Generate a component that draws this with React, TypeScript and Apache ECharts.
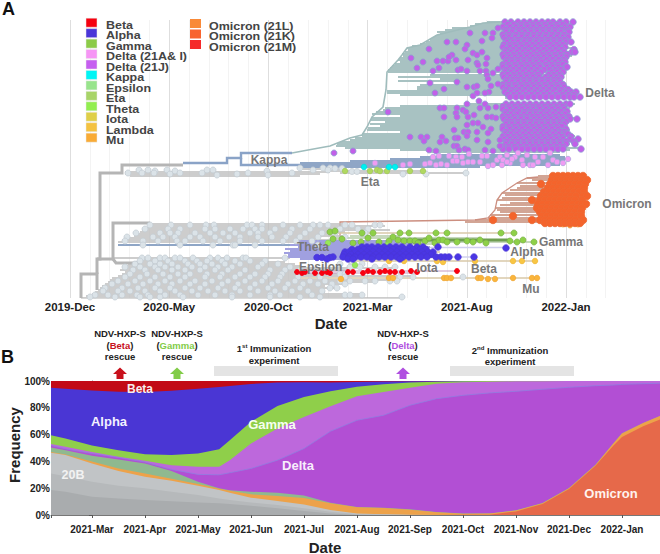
import React, { useEffect, useRef } from "react";
import * as echarts from "echarts";

const FONT = "'Liberation Sans', Arial, sans-serif";

// ---------- Panel A: tree. Horizontal scale: tree position, vertical scale: tip rank ----------
const treeMonthLabels: Record<number, string> = { 0: "2019-Dec", 5: "2020-May", 10: "2020-Oct", 15: "2021-Mar", 20: "2021-Aug", 25: "2022-Jan" };

const rootBranches = [
  [[81, 298], [81, 274], [97, 274], [97, 290]],
  [[97, 274], [97, 259], [100, 259], [100, 173], [122, 173], [122, 165], [183, 165]],
  [[97, 259], [113, 259], [113, 223], [150, 223]],
  [[113, 259], [116, 263], [140, 263]],
];
const grayThin = [
  [172, 125, 330], [174, 125, 320], [176, 130, 300], [169, 300, 340],
  [224, 150, 345], [226, 148, 385], [228, 146, 370], [230, 142, 390], [232, 140, 345], [234, 136, 330], [236, 134, 345], [238, 128, 320], [240, 122, 340], [242, 118, 315],
  [258, 114, 290], [260, 140, 265], [262, 135, 285], [264, 128, 295], [266, 125, 300], [268, 124, 395], [270, 120, 350], [272, 125, 300], [274, 122, 345], [276, 118, 413], [278, 112, 300],
  [280, 110, 397], [282, 108, 375], [284, 105, 345], [286, 102, 325], [288, 100, 337], [290, 98, 322], [292, 95, 325], [294, 92, 362], [296, 86, 362], [298, 81, 402],
  [173, 340, 466], [171, 330, 426],
];
const tanLines = [[261, 350, 535], [278, 300, 537], [233, 330, 514], [252, 380, 440]];
const blueBranches = [
  [[183, 163], [227, 163], [227, 158], [241, 158], [241, 153], [292, 153]],
  [[241, 158], [241, 165], [300, 165]],
];
const blueTips = [[155, 440, 560], [157, 420, 565], [159, 390, 568], [161, 350, 565], [163, 300, 560], [165, 241, 560], [167, 300, 480], [245, 118, 300]];
const deltaTrunk = [[[292, 153], [308, 150], [330, 146], [350, 138], [362, 135], [367, 127], [372, 117], [383, 107], [386, 90], [387, 72], [398, 60], [402, 55], [407, 48], [420, 45], [437, 35], [470, 27], [483, 23], [500, 22]]];
const deltaTips = [
  [22, 487, 560], [24, 475, 572], [26, 470, 565], [28, 452, 570], [30, 445, 560], [32, 437, 568], [34, 440, 558], [36, 435, 566], [38, 432, 562], [40, 430, 570], [42, 426, 560], [44, 420, 568], [46, 412, 562], [48, 407, 572], [50, 408, 560], [52, 405, 570], [54, 402, 565], [56, 403, 572], [58, 400, 560], [60, 398, 568], [62, 400, 562], [64, 395, 566], [66, 392, 558], [68, 390, 566], [70, 388, 562],
  [72, 388, 556], [75, 430, 558], [77, 398, 560], [79, 440, 556], [81, 398, 560], [83, 460, 558], [85, 420, 560], [87, 417, 556], [89, 417, 560], [91, 387, 560], [93, 387, 575], [95, 400, 570], [98, 505, 582],
  [104, 470, 575], [106, 400, 560], [108, 385, 570], [110, 383, 562], [112, 376, 566], [114, 372, 560], [116, 400, 570], [118, 372, 578], [120, 370, 560], [122, 385, 566], [124, 370, 560], [126, 380, 568], [128, 368, 565], [130, 367, 570], [132, 400, 562], [134, 362, 568], [136, 362, 575], [138, 355, 565], [140, 350, 578], [142, 340, 568], [144, 337, 570], [146, 336, 562], [148, 345, 580], [150, 400, 570], [152, 430, 560],
];
const omicronTrunk = [[[340, 240], [340, 222], [475, 220], [488, 218], [495, 210], [497, 200], [502, 193], [517, 183], [527, 178], [538, 177]]];
const omicronTips = [
  [176, 538, 585], [178, 527, 585], [180, 532, 585], [183, 517, 584], [186, 520, 585], [188, 517, 584], [190, 510, 585], [193, 502, 585], [195, 505, 584], [198, 502, 585], [200, 497, 584], [203, 510, 585], [205, 500, 584], [208, 495, 582], [210, 497, 584], [212, 500, 582], [215, 490, 582], [218, 488, 580], [220, 475, 582], [222, 465, 580],
];
const gammaThick = [[240, 400, 510]];
const gammaTips = [[238, 330, 480], [242, 333, 534], [244, 370, 440], [236, 350, 400]];
const alphaTips = [
  [241, 295, 400], [243, 300, 420], [245, 290, 410], [247, 298, 430], [249, 285, 425], [251, 290, 430], [253, 284, 425], [255, 288, 440], [257, 285, 440], [259, 300, 400],
];
const alphaTails = [[247.5, 430, 506], [257, 440, 473]];
const betaTips = [[271, 296, 457], [273, 300, 420]];

const grayDotRows = [
  [168, 300, 323, 330], [170, 139, 148, 167, 207, 213, 313, 328], [171, 155, 175, 267], [173, 128, 142, 154, 180, 202, 248, 292, 466], [174, 170, 237, 403, 426], [175, 217, 268], [168.5, 335, 342],
  [171.5, 352, 357],
  [225, 150, 171, 190, 206, 214, 247, 252, 262, 283, 300, 313, 320, 328, 345, 352, 375, 380],
  [229, 145, 168, 180, 205, 215, 230, 243, 255, 262, 275, 292, 310, 340, 358, 368],
  [233, 136, 160, 170, 178, 195, 210, 223, 235, 250, 258, 270, 290, 305, 322, 335, 365],
  [237, 127, 153, 163, 175, 190, 200, 215, 229, 240, 258, 272, 286, 300, 318, 345],
  [241, 125, 143, 158, 177, 185, 203, 220, 240, 262, 283, 296, 312],
  [245, 143, 180, 213, 233, 235, 255, 318],
  [258, 142, 148, 160, 165, 175, 180, 193, 210, 218, 227, 243, 246, 285],
  [261, 140, 155, 168, 185, 197, 207, 222, 235, 250, 265],
  [264, 135, 150, 160, 172, 188, 200, 212, 225, 240, 262, 278, 340, 352, 362],
  [267, 125, 140, 155, 165, 178, 192, 205, 218, 232, 258, 290, 350, 360, 375, 385, 395],
  [270, 133, 145, 158, 172, 185, 200, 215, 228, 245, 270, 285, 300],
  [274, 130, 147, 163, 178, 190, 207, 222, 240, 255, 268, 282, 330, 340, 345],
  [277, 125, 140, 155, 170, 185, 205, 220, 235, 250, 265, 280, 298, 320, 345, 400, 413, 463],
  [281, 118, 135, 150, 165, 180, 195, 212, 228, 245, 262, 278, 295, 310, 325, 340, 350, 365, 375, 390, 397],
  [284, 112, 128, 143, 158, 172, 190, 205, 222, 238, 255, 272, 288, 303, 318, 332, 345],
  [288, 105, 122, 138, 155, 170, 185, 200, 218, 235, 250, 268, 285, 300, 330, 337],
  [291, 103, 118, 130, 145, 160, 175, 192, 208, 225, 240, 258, 275, 292, 308, 322],
  [295, 95, 108, 122, 137, 148, 165, 180, 198, 215, 232, 250, 270, 280, 312, 345, 350, 362],
  [297, 90, 115, 140, 150, 160, 183, 232, 270, 300, 320, 402],
];
const deltaDotRows = [
  [22, 505, 511, 518, 524, 530, 536, 542, 548, 553, 560, 566, 573],
  [24.5, 508, 514, 521, 527, 533, 539, 545, 551, 557, 563],
  [27, 503, 510, 516, 521, 528, 533, 540, 546, 552, 558, 565, 570],
  [29.5, 506, 513, 519, 524, 531, 537, 543, 549, 555, 562, 567],
  [32, 506, 512, 519, 525, 531, 537, 543, 549, 555, 561, 567, 569],
  [34.5, 503, 509, 516, 522, 528, 534, 540, 546, 552, 558, 564],
  [37, 504, 509, 515, 522, 527, 534, 539, 545, 551, 557, 563, 568],
  [39.5, 506, 512, 518, 525, 530, 537, 542, 548, 554, 560, 565],
  [42, 507, 513, 518, 524, 530, 536, 542, 548, 554, 560, 566, 571],
  [44.5, 504, 510, 515, 521, 527, 533, 539, 545, 551, 557, 563],
  [47, 503, 510, 516, 522, 529, 535, 541, 546, 553, 559, 565],
  [49.5, 506, 513, 519, 525, 532, 538, 544, 550, 556, 562, 574],
  [52, 505, 511, 517, 523, 528, 534, 540, 547, 552, 558, 564, 572, 575],
  [54.5, 503, 508, 514, 520, 526, 531, 537, 543, 549, 555, 561, 567],
  [57, 504, 509, 515, 521, 527, 533, 538, 544, 550, 556, 562, 566],
  [59.5, 507, 512, 518, 524, 530, 536, 541, 547, 553, 559, 564],
  [62, 506, 512, 518, 524, 530, 536, 542, 549, 555, 561, 565],
  [64.5, 503, 509, 515, 521, 527, 533, 539, 546, 552, 558, 563],
  [67, 503, 510, 516, 522, 528, 534, 540, 547, 553, 558, 566, 567],
  [69.5, 506, 513, 519, 525, 531, 537, 544, 550, 556, 561],
  [72, 505, 511, 517, 523, 529, 535, 541, 552, 557, 563],
  [74.5, 503, 508, 514, 520, 526, 532, 538, 549, 554, 560],
  [77, 504, 510, 515, 521, 527, 533, 539, 546, 551, 556, 561],
  [79.5, 507, 513, 518, 524, 530, 536, 542, 548, 554, 559],
  [82, 506, 512, 518, 524, 530, 536, 542, 548, 554, 560],
  [84.5, 503, 509, 515, 521, 527, 533, 539, 545, 551, 557, 563],
  [87, 503, 509, 516, 522, 528, 534, 540, 546, 552, 558, 564],
  [89.5, 506, 512, 519, 525, 531, 537, 543, 549, 555, 561, 568],
  [92, 505, 511, 517, 523, 529, 535, 541, 547, 553, 560, 566, 571, 576],
  [94.5, 508, 514, 520, 526, 532, 538, 544, 550, 556, 563, 569, 574],
  [97, 510, 516, 522, 528, 534, 540, 546, 552, 558, 564, 570, 574, 580],
  [104, 506, 512, 518, 524, 530, 536, 542, 548, 554, 560, 566, 570],
  [106.5, 503, 509, 515, 521, 527, 533, 539, 545, 551, 557, 563],
  [109, 503, 510, 516, 522, 528, 533, 540, 546, 552, 558, 564],
  [111.5, 506, 513, 519, 525, 531, 536, 543, 549, 555, 561, 567],
  [114, 505, 511, 517, 524, 530, 536, 541, 547, 553, 559, 565],
  [116.5, 503, 508, 514, 521, 527, 533, 538, 544, 550, 556, 562, 569],
  [119, 504, 509, 515, 521, 527, 534, 539, 545, 551, 557, 563, 570, 577],
  [121.5, 507, 512, 518, 524, 531, 537, 542, 548, 554, 560, 566],
  [124, 506, 512, 518, 524, 530, 536, 542, 548, 554, 560, 564],
  [126.5, 503, 509, 515, 521, 527, 533, 539, 545, 551, 557, 562],
  [129, 503, 510, 516, 522, 528, 534, 540, 546, 552, 558, 566],
  [131.5, 506, 513, 519, 525, 531, 537, 543, 549, 555, 561, 565],
  [134, 505, 511, 517, 523, 529, 535, 541, 547, 553, 559, 565, 568],
  [136.5, 503, 508, 514, 520, 526, 532, 538, 544, 550, 556, 562, 571],
  [139, 504, 510, 515, 521, 527, 533, 539, 545, 551, 557, 563, 570, 578],
  [141.5, 507, 513, 518, 524, 530, 536, 542, 548, 554, 560, 566, 574],
  [144, 506, 512, 518, 524, 530, 536, 542, 548, 554, 560, 566, 575],
  [146.5, 503, 509, 515, 521, 527, 533, 539, 545, 551, 557, 563],
  [149, 503, 509, 516, 522, 528, 534, 540, 546, 552, 558, 563, 581],
];
const deltaSparseDots = [
  [498, 28], [470, 33], [485, 33], [493, 33], [492, 38], [482, 41], [447, 42], [456, 42], [467, 45], [429, 49], [465, 49], [473, 53], [482, 52], [452, 55], [477, 55], [411, 58], [487, 58], [423, 62], [437, 61], [443, 61], [448, 61], [456, 60], [468, 60], [477, 63], [486, 64], [449, 57], [417, 68], [433, 71], [439, 68], [458, 70], [461, 69], [467, 71], [480, 71], [486, 71], [493, 73], [498, 69], [478, 65], [487, 75], [488, 79], [430, 83], [457, 82], [498, 84], [491, 86], [467, 87], [474, 87], [477, 86], [444, 89], [435, 93], [489, 92], [485, 93], [477, 93], [473, 96], [479, 101], [467, 104], [485, 104], [480, 108], [496, 107], [440, 108], [444, 108], [457, 108], [463, 110], [466, 112], [488, 108], [388, 112], [456, 113], [474, 115], [468, 117], [444, 117], [457, 117], [487, 117], [492, 117], [496, 118], [473, 123], [478, 123], [467, 125], [483, 127], [491, 129], [454, 130], [464, 132], [468, 132], [477, 132], [488, 133], [467, 136], [410, 137], [421, 137], [427, 137], [442, 137], [455, 138], [458, 138], [424, 141], [440, 142], [446, 141], [477, 140], [488, 142], [500, 140], [454, 146], [457, 146], [500, 146], [429, 150], [436, 151], [459, 150], [465, 149], [468, 150], [485, 150], [493, 151], [334, 153], [353, 151],
];
const delta21ADots = [
  [375, 163], [403, 165], [410, 164], [425, 164], [430, 163], [436, 165], [441, 164], [447, 165], [433, 157], [439, 156], [449, 156], [456, 157], [462, 157], [469, 154], [482, 156], [487, 156], [453, 161], [457, 161], [463, 163], [468, 162], [473, 162], [480, 162], [488, 166], [493, 165], [497, 160], [500, 157], [503, 160], [507, 155], [510, 163], [515, 157], [518, 153], [522, 160], [527, 155], [530, 165], [535, 157], [538, 162], [543, 157], [548, 165], [553, 160], [557, 162], [563, 163], [568, 159], [502, 165], [507, 162], [512, 159], [523, 165], [533, 165], [550, 153],
];
const kappaDots = [[364, 167], [389, 167], [395, 167]];
const etaDots = [[345, 171], [370, 171], [377, 170], [380, 171], [387, 171], [410, 171], [423, 171]];
const omicronDotRows = [
  [176, 553, 558, 563, 568, 573, 578, 583],
  [180, 552, 557, 562, 567, 572, 577, 582, 587],
  [184, 541, 550, 555, 560, 565, 570, 575, 580, 585],
  [188, 548, 553, 558, 563, 568, 573, 578, 584],
  [192, 544, 549, 554, 559, 564, 569, 574, 579, 584],
  [196, 541, 546, 551, 556, 561, 566, 571, 576, 583, 587],
  [200, 532, 540, 545, 550, 555, 560, 565, 570, 575, 582],
  [204, 538, 543, 548, 553, 558, 563, 568, 573, 578, 582, 586],
  [208, 537, 542, 547, 552, 557, 562, 567, 572, 577, 582],
  [212, 540, 545, 550, 555, 560, 565, 570, 575, 581],
  [216, 513, 542, 547, 552, 557, 562, 567, 572, 577, 581],
  [220, 493, 532, 540, 545, 550, 555, 560, 565, 570, 575, 583],
  [223, 545, 550, 555, 560, 565, 570, 575, 580],
];
const omicron21LDots = [[563, 224], [570, 225], [578, 224]];
const gammaDots = [
  [330, 232], [335, 231], [362, 233], [373, 233], [400, 233], [409, 233], [436, 233], [447, 233], [501, 233], [514, 233],
  [333, 239], [342, 239], [353, 243], [361, 242], [368, 238], [379, 242], [393, 237], [389, 241], [398, 240], [404, 241], [410, 241], [415, 241], [418, 243], [425, 241], [429, 238], [435, 243], [439, 240], [443, 240], [447, 242], [457, 242], [467, 241], [473, 242], [480, 240], [486, 243], [510, 241], [517, 242], [523, 240], [534, 242],
];
const thetaDots = [[387, 245], [355, 265], [328, 243]];
const alphaDotRows = [
  [247, 362, 367, 372, 378, 384, 390, 396, 402, 410, 417, 423, 438],
  [249.5, 352, 358, 364, 369, 375, 381, 387, 393, 399, 405, 413, 420, 426],
  [252, 345, 349, 355, 361, 367, 373, 379, 385, 391, 397, 403, 409, 416, 422, 428, 433],
  [254.5, 344, 351, 358, 364, 370, 376, 382, 388, 394, 400, 406, 412, 418, 424, 431],
  [257, 333, 343, 349, 355, 361, 367, 373, 379, 385, 391, 397, 403, 409, 415, 421, 427, 436, 441, 445, 449, 458, 474],
  [257.5, 317, 322, 330],
  [259, 327, 348, 353, 372, 400],
  [248, 506],
];
const betaDots = [[297, 272], [302, 273], [305, 272], [315, 273], [322, 273], [327, 272], [330, 273], [348, 272], [353, 272], [363, 273], [368, 271], [373, 272], [380, 272], [385, 271], [390, 272], [395, 272], [402, 272], [411, 271], [417, 272], [457, 271]];
const lambdaDots = [[389, 261], [404, 261], [437, 261], [443, 262], [475, 261], [513, 261], [522, 261], [535, 261]];
const muDots = [[341, 279], [389, 278], [393, 278], [444, 278], [447, 278], [451, 278], [478, 278], [481, 278], [488, 279], [495, 279], [513, 278], [532, 278], [537, 278]];

// ---------- Panel B: upper edge of each band (%) at month offsets from 2021-Mar ----------
const freqMonthLabels = ["2021-Mar", "2021-Apr", "2021-May", "2021-Jun", "2021-Jul", "2021-Aug", "2021-Sep", "2021-Oct", "2021-Nov", "2021-Dec", "2022-Jan"];
const freqTicks = [0, 1, 2, 3, 4, 5, 6, 7, 8, 9, 10];
const freqX = [-0.773, -0.5, 0, 0.5, 1, 1.5, 2, 2.4, 2.6, 3, 3.5, 4, 4.5, 5, 5.5, 6, 6.5, 7, 7.5, 8, 8.5, 9, 9.5, 9.84, 10, 10.4, 10.717];
const betaTop = [100, 100, 100, 100, 100, 100, 100, 100, 100, 100, 100, 100, 100, 100, 100, 100, 100, 100, 100, 100, 100, 100, 100, 100, 100, 100, 100];
const alphaTop = [95, 94.3, 93, 92, 91.8, 92.8, 94.3, 95.5, 96.3, 97.8, 98.8, 99, 98.8, 99.2, 99.6, 99.8, 99.9, 100, 100, 100, 100, 100, 100, 100, 100, 100, 100];
const gammaTop = [59.6, 57, 51.9, 48.4, 45.4, 44.7, 45.9, 49, 55.8, 69.5, 81.4, 88, 92.3, 95.8, 97.5, 98.8, 99.5, 99.8, 100, 100, 100, 100, 100, 100, 100, 100, 100];
const delta21ATop = [52.9, 50.9, 47.1, 43.4, 40.4, 37.2, 36, 36, 40.9, 53.3, 64.5, 73.2, 81.1, 88.6, 91.8, 95, 98, 99, 99.5, 99.8, 99.9, 100, 100, 100, 100, 100, 100];
const delta21JTop = [51.9, 49.4, 45.9, 42.9, 39.5, 34, 30.3, 30, 31.5, 34.7, 40.9, 49.6, 62.5, 70.7, 74.4, 81.9, 86.8, 89.3, 91.1, 92.3, 93.8, 95.3, 96.5, 97, 97.5, 98, 98.3];
const otherTop = [50.4, 48.4, 44.2, 41.4, 38.5, 32.8, 24.8, 19.9, 18.4, 17.4, 16.6, 14.6, 9.2, 6, 5.5, 4.2, 2.2, 1.2, 1.2, 3.5, 8.9, 20.1, 37.5, 53.6, 61, 68.7, 73.9];
const lambdaMuTop = [47.1, 45.2, 40, 34.7, 31, 27, 23.1, 19.6, 18.1, 15.4, 14.1, 12.7, 8.7, 5.7, 5.2, 4, 2, 1, 1.1, 3.35, 8.8, 20, 37.4, 53.5, 60.9, 68.6, 73.8];
const omicronTop = [0, 0, 0, 0, 0, 0, 0, 0, 0, 0, 0, 0, 0, 0, 0, 0, 0, 0.2, 0.25, 2.7, 8.2, 19.4, 36.7, 51.9, 58.3, 66.3, 71.2];
const gray20BTop = [46.4, 44.7, 38.5, 32.8, 28.5, 25.6, 21.8, 18.6, 16.6, 12.9, 10.4, 7.9, 3.7, 1.2, 0.5, 0.2, 0, 0, 0, 0, 0, 0, 0, 0, 0, 0, 0];
const gray2Top = [31, 29, 24.8, 21.8, 19.9, 17.4, 14.9, 12.4, 11.2, 9.4, 7.4, 5, 2.5, 0.7, 0.3, 0, 0, 0, 0, 0, 0, 0, 0, 0, 0, 0, 0];
const gray3Top = [18.6, 17.4, 13.6, 12.4, 11.2, 10.2, 9.4, 8.7, 8.2, 6.9, 5, 3, 1.2, 0, 0, 0, 0, 0, 0, 0, 0, 0, 0, 0, 0, 0, 0];

const legendCol1 = [
  ["Beta", "#f5000f"], ["Alpha", "#4a36d8"], ["Gamma", "#8ccb48"], ["Delta (21A& I)", "#f695f5"], ["Delta (21J)", "#c65ef0"], ["Kappa", "#00f5f5"],
  ["Epsilon", "#98e48c"], ["Eta", "#a8d468"], ["Theta", "#92ee50"], ["Iota", "#dfcf48"], ["Lambda", "#f4c240"], ["Mu", "#f9ab35"],
];
const legendCol2 = [["Omicron (21L)", "#f98a38"], ["Omicron (21K)", "#f8642e"], ["Omicron (21M)", "#f52a2a"]];

const rows = (t: number[][]) => t.flatMap(([y, ...xs]) => xs.map((x) => [x, y]));
const tips = (t: number[][]) => t.map(([y, a, b]) => ({ coords: [[a, y], [b, y]] }));
const polys = (t: number[][][]) => t.map((coords) => ({ coords }));

const linesSeries = (data: any[], color: string, width: number) => ({
  type: "lines", coordinateSystem: "cartesian2d", xAxisIndex: 1, yAxisIndex: 0, polyline: true, silent: true, progressive: 0, z: 2,
  lineStyle: { color, width, opacity: 1, curveness: 0 }, data,
});
const dots = (data: number[][], color: string, border: string, size = 7, z = 3) => ({
  type: "scatter", xAxisIndex: 1, yAxisIndex: 0, symbolSize: size, silent: true, progressive: 0, z,
  itemStyle: { color, borderColor: border, borderWidth: 0.8, opacity: 1 }, data,
});
const band = (name: string, data: number[], color: string, lineColor?: string) => ({
  name, type: "line", xAxisIndex: 2, yAxisIndex: 1, symbol: "none", silent: true, z: 2,
  areaStyle: { color, opacity: 1, origin: "start" },
  lineStyle: { color: lineColor || color, width: lineColor ? 0.8 : 0 },
  data: data.map((v, i) => [freqX[i], v]),
});

const txt = (x: number, y: number, text: string, fontSize: number, fill: string, align = "center", extra: any = {}) => ({
  type: "text", z: 100, silent: true, ...extra,
  x, y,
  style: { text, fill, font: `bold ${fontSize}px ${FONT}`, textAlign: align, textVerticalAlign: "middle", ...(extra.style || {}) },
});
const arrow = (cx: number, fill: string) => ({
  type: "polygon", z: 100, silent: true,
  shape: { points: [[cx, 367.5], [cx + 7, 374], [cx + 3.5, 374], [cx + 3.5, 379], [cx - 3.5, 379], [cx - 3.5, 374], [cx - 7, 374]] },
  style: { fill },
});
const rescue = (cx: number, word: string, color: string) => [
  txt(cx, 333, "NDV-HXP-S", 9.5, "#222"),
  {
    type: "text", z: 100, silent: true, x: cx, y: 345,
    style: {
      text: `{a|(}{c|${word}}{a|)}`, textAlign: "center", textVerticalAlign: "middle",
      rich: { a: { font: `bold 9.5px ${FONT}`, fill: "#222" }, c: { font: `bold 9.5px ${FONT}`, fill: color } },
    },
  },
  txt(cx, 356, "rescue", 9.5, "#222"),
  arrow(cx, color),
];
const immunization = (cx: number, y: number, n: string, sup: string) => ({
  type: "text", z: 100, silent: true, x: cx, y,
  style: {
    text: `{a|${n}}{s|${sup}}{a| Immunization}`, textAlign: "center", textVerticalAlign: "middle",
    rich: { a: { font: `bold 9.5px ${FONT}`, fill: "#222" }, s: { font: `bold 6px ${FONT}`, fill: "#222", verticalAlign: "top" } },
  },
});

export default function App() {
  const ref = useRef<HTMLDivElement>(null);
  useEffect(() => {
    document.body.style.margin = "0";
    const chart = echarts.init(ref.current!, null, { renderer: "svg" });
    const legendItems = [
      ...legendCol1.flatMap(([name, color], i) => [
        { type: "rect", z: 100, silent: true, shape: { x: 86, y: 18.2 + i * 10.45, width: 11, height: 9 }, style: { fill: color, stroke: "#e8e8e8", lineWidth: 0.5 } },
        txt(106, 25 + i * 10.5, name, 10.4, "#444", "left", { scaleX: 1.2 }),
      ]),
      ...legendCol2.flatMap(([name, color], i) => [
        { type: "rect", z: 100, silent: true, shape: { x: 190, y: 19 + i * 10.5, width: 11, height: 9 }, style: { fill: color } },
        txt(209, 26 + i * 10.5, name, 10.4, "#444", "left", { scaleX: 1.2 }),
      ]),
    ];
    chart.setOption({
      animation: false,
      textStyle: { fontFamily: FONT },
      grid: [
        { left: 70, top: 20, width: 535.68, height: 278 },
        { left: 51, top: 381, width: 609, height: 134 },
      ],
      xAxis: [
        {
          type: "value", gridIndex: 0, min: 0, max: 27, interval: 1,
          axisLine: { show: false }, axisTick: { show: false },
          axisLabel: { margin: 3, color: "#222", fontWeight: "bold", fontSize: 11.5, formatter: (v: number) => treeMonthLabels[v] || "" },
          splitLine: { show: true, lineStyle: { width: 1, color: ["#dedede", "#f3f3f3", "#f3f3f3", "#f3f3f3", "#f3f3f3"] } },
        },
        { type: "value", gridIndex: 0, min: 70, max: 605.68, show: false },
        {
          type: "value", gridIndex: 1, min: -0.773, max: 10.717,
          axisLine: { show: true, onZero: false, lineStyle: { color: "#777" } },
          axisTick: { show: true, length: 3, lineStyle: { color: "#555" }, customValues: [-0.773, ...freqTicks, 10.717] },
          axisLabel: { margin: 9, color: "#222", fontWeight: "bold", fontSize: 10, customValues: freqTicks, formatter: (v: number) => freqMonthLabels[v] || "" },
          splitLine: { show: false },
        },
      ],
      yAxis: [
        { type: "value", gridIndex: 0, min: 20, max: 298, inverse: true, show: false },
        {
          type: "value", gridIndex: 1, min: 0, max: 100, interval: 20,
          axisLine: { show: true, lineStyle: { color: "#777" } },
          axisTick: { show: true, length: 3, lineStyle: { color: "#555" } },
          axisLabel: { margin: 1, color: "#222", fontWeight: "bold", fontSize: 10, formatter: "{value}%" },
          splitLine: { show: false },
        },
      ],
      series: [
        linesSeries(tips(deltaTips), "#a8c2c2", 1.9),
        linesSeries(polys(deltaTrunk), "#9fbcbc", 1.6),
        linesSeries(tips(omicronTips), "#d2a595", 1.8),
        linesSeries(polys(omicronTrunk), "#cc8f80", 1.3),
        linesSeries(tips(grayThin), "#bcbcbc", 1.5),
        linesSeries(tips(tanLines), "#d8c8a8", 1.5),
        linesSeries(polys(rootBranches), "#b5b5b5", 3),
        linesSeries(tips(blueTips), "#8fa6c6", 1.9),
        linesSeries(polys(blueBranches), "#8aa3c7", 2.4),
        linesSeries(tips(gammaTips), "#b5cba8", 1.4),
        linesSeries(tips(gammaThick), "#6f9d52", 3),
        linesSeries(tips(alphaTips), "#a0a0e0", 1.9),
        linesSeries(tips(alphaTails), "#d0d0ee", 1.4),
        linesSeries(tips(betaTips), "#c59ac0", 1.2),

        dots(rows(grayDotRows), "#dbe3e8", "#c3ccd3", 6, 3),
        dots(rows(deltaDotRows), "#c25fe8", "#8a9bd0", 6.5, 4),
        dots(deltaSparseDots, "#c25fe8", "#8a9bd0", 6, 4),
        dots(delta21ADots, "#f09cf2", "#b0a6e0", 5.5, 5),
        dots(kappaDots, "#00f0f0", "#00e0e0", 5.5, 5),
        dots(etaDots, "#b0d860", "#9fc85a", 5.5, 4),
        dots(rows(omicronDotRows), "#f4642c", "#ee6a34", 7.5, 4),
        dots(omicron21LDots, "#f5a040", "#f09838", 6, 3),
        dots(gammaDots, "#8ed048", "#78b244", 6, 4),
        dots(thetaDots, "#98e858", "#88d850", 5.5, 4),
        dots(rows(alphaDotRows), "#4a36e4", "#4a36d8", 6.5, 5),
        dots(betaDots, "#fa0010", "#f00010", 5, 5),
        dots(lambdaDots, "#f8c644", "#f0b838", 5.5, 4),
        dots(muDots, "#fab53c", "#f0a838", 5.5, 4),

        band("Beta", betaTop, "#c20a16"),
        band("Alpha", alphaTop, "#4a36d4"),
        band("Gamma", gammaTop, "#8fcf4a"),
        band("Delta 21A", delta21ATop, "#bd68dc"),
        band("Delta 21J", delta21JTop, "#b24fd4", "#8f7fe0"),
        band("Other", otherTop, "#8fb98f"),
        band("Lambda/Mu", lambdaMuTop, "#eda24a"),
        band("Omicron", omicronTop, "#e6694a"),
        band("20B", gray20BTop, "#c1c4c6"),
        band("20B-2", gray2Top, "#b6b9bb"),
        band("20B-3", gray3Top, "#a9acae"),
      ],
      graphic: [
        txt(2, 9, "A", 18, "#111", "left"),
        txt(1, 357, "B", 18, "#111", "left"),
        ...legendItems,
        txt(269, 160, "Kappa", 12, "#777"),
        txt(600, 93, "Delta", 12, "#777"),
        txt(370, 182, "Eta", 12, "#777"),
        txt(627, 204, "Omicron", 12, "#777"),
        txt(561, 242, "Gamma", 12, "#777"),
        txt(527, 252, "Alpha", 12, "#777"),
        txt(427, 268, "Iota", 12, "#777"),
        txt(484, 269, "Beta", 12, "#777"),
        txt(531, 289, "Mu", 12, "#777"),
        txt(297, 247, "Theta", 12, "#777", "left"),
        txt(299, 267, "Epsilon", 12, "#777", "left"),
        txt(331, 323, "Date", 15, "#222"),
        txt(325, 547, "Date", 15, "#222"),
        txt(14, 445, "Frequency", 15, "#222", "center", { rotation: Math.PI / 2 }),
        ...rescue(120, "Beta", "#c8101c"),
        ...rescue(177, "Gamma", "#82cc48"),
        ...rescue(403, "Delta", "#b050e0"),
        immunization(274, 348, "1", "st"),
        txt(274, 360, "experiment", 9.5, "#222"),
        immunization(510, 350, "2", "nd"),
        txt(510, 361, "experiment", 9.5, "#222"),
        { type: "rect", z: 100, silent: true, shape: { x: 214, y: 366, width: 124, height: 10 }, style: { fill: "#e4e4e4" } },
        { type: "rect", z: 100, silent: true, shape: { x: 450, y: 366, width: 124, height: 10 }, style: { fill: "#e4e4e4" } },
        txt(140, 389, "Beta", 12, "#f6eeee"),
        txt(109, 421, "Alpha", 13, "#f2f0ff"),
        txt(272, 424, "Gamma", 13, "#f6fff0"),
        txt(298, 465, "Delta", 13, "#f8eefc"),
        txt(73, 475, "20B", 12.5, "#f2f2f2"),
        txt(611, 493, "Omicron", 13, "#fff3ee"),
      ],
    });
    return () => chart.dispose();
  }, []);
  return <div ref={ref} style={{ position: "absolute", left: 0, top: 0, width: 660, height: 554 }} />;
}
